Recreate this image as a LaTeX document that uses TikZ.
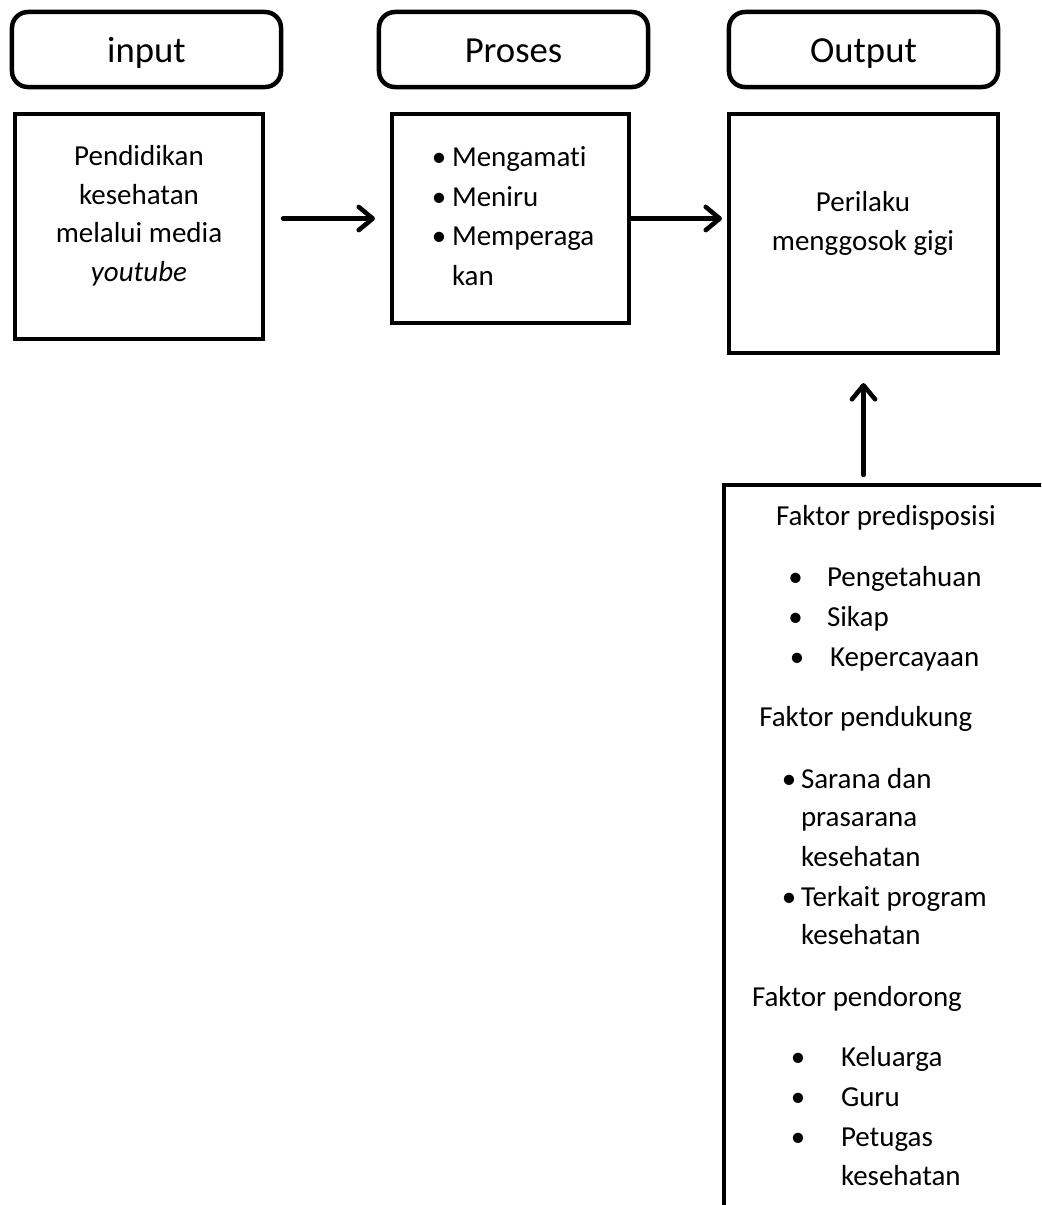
\documentclass[tikz,border=0pt]{standalone}
\usepackage{fontspec}
\setmainfont[Ligatures={NoCommon}]{Carlito}
\usetikzlibrary{arrows.meta}

\newcommand{\bodysize}{\fontsize{20.6}{27.5}\selectfont}
\newcommand{\headsize}{\fontsize{26.1}{32}\selectfont}

\begin{document}
\begin{tikzpicture}[
        x=0.025cm, y=-0.025cm,
        every node/.style={inner sep=0pt, outer sep=0pt},
        head/.style={draw, line width=3.2pt, rounded corners=0.4cm, minimum width=6.725cm, minimum height=1.875cm,
            font=\headsize, text height=0.8cm, text depth=0.175cm},
        box/.style={draw, line width=3.2pt},
        mid/.style={font=\bodysize, anchor=base},
        txt/.style={font=\bodysize, anchor=base west},
        dot/.style={font=\bodysize, anchor=base},
        arr/.style={line width=3.2pt, line cap=round, -{Straight Barb[length=3.5mm, width=5.8mm, line join=round, line cap=round]},
            preaction={draw=black!18, transform canvas={shift={(0.8pt,-1.6pt)}}}},
    ]
        \useasboundingbox (0,0) rectangle (1041,1205);
        \clip (0,0) rectangle (1041,1205);

        % Header boxes
        \node[head] (inpHead) at (146.5,49.5) {input};
        \node[head] (prosHead) at (513.5,49.5) {Proses};
        \node[head] (outHead) at (863.5,49.5) {Output};

        % Content boxes
        \node[box, minimum width=6.2cm, minimum height=5.625cm] (inp) at (139,226.5) {};
        \node[box, minimum width=5.925cm, minimum height=5.225cm] (pros) at (510.5,218.5) {};
        \node[box, minimum width=6.725cm, minimum height=5.975cm] (out) at (863.5,233.5) {};
        \node[box, minimum width=9.4cm, minimum height=19.375cm] (fak) at (912,872.5) {};

        % Input text
        \node[mid] (inp1) at (139,165.7) {Pendidikan};
        \node[mid] (inp2) at (139,204) {kesehatan};
        \node[mid] (inp3) at (139,242) {melalui media};
        \node[mid] (inp4) at (139,281) {\textit{youtube}};

        % Proses text
        \node[dot] (prosDot1) at (439,166.7) {•};
        \node[txt] (pros1) at (452,166.7) {Mengamati};
        \node[dot] (prosDot2) at (439,206) {•};
        \node[txt] (pros2) at (452,206) {Meniru};
        \node[dot] (prosDot3) at (439,245.5) {•};
        \node[txt] (pros3) at (452,245.5) {Memperaga};
        \node[txt] (pros4) at (452,285) {kan};

        % Output text
        \node[mid] (out1) at (863,211.7) {Perilaku};
        \node[mid] (out2) at (863,250) {menggosok gigi};

        % Faktor predisposisi
        \node[txt] (fakA) at (776,525.7) {Faktor predisposisi};
        \node[dot] (dotA1) at (795.7,586.7) {•};
        \node[txt] (fakA1) at (827,586.7) {Pengetahuan};
        \node[dot] (dotA2) at (795.7,626) {•};
        \node[txt] (fakA2) at (827,626) {Sikap};
        \node[dot] (dotA3) at (797,666) {•};
        \node[txt] (fakA3) at (830,666) {Kepercayaan};

        % Faktor pendukung
        \node[txt] (fakB) at (759.3,726.7) {Faktor pendukung};
        \node[dot] (dotB1) at (789,788) {•};
        \node[txt] (fakB1) at (801,788) {Sarana dan};
        \node[txt] (fakB2) at (801,826.7) {prasarana};
        \node[txt] (fakB3) at (801,866) {kesehatan};
        \node[dot] (dotB4) at (789,906) {•};
        \node[txt] (fakB4) at (801,906) {Terkait program};
        \node[txt] (fakB5) at (801,944) {kesehatan};

        % Faktor pendorong
        \node[txt] (fakC) at (752,1006.7) {Faktor pendorong};
        \node[dot] (dotC1) at (798,1066) {•};
        \node[txt] (fakC1) at (841,1066) {Keluarga};
        \node[dot] (dotC2) at (798,1106.7) {•};
        \node[txt] (fakC2) at (841,1106.7) {Guru};
        \node[dot] (dotC3) at (798,1146.7) {•};
        \node[txt] (fakC3) at (841,1146.7) {Petugas};
        \node[txt] (fakC4) at (841,1185) {kesehatan};

        % Arrows
        \draw[arr, shorten <=0.5cm, shorten >=0.425cm] (inp.east |- pros.west) -- (pros.west);
        \draw[arr, shorten <=0.05cm, shorten >=0.175cm] (pros.east) -- (pros.east -| out.west);
        \draw[arr, shorten <=0.25cm, shorten >=0.75cm] (fak.north -| out.south) -- (out.south);
    \end{tikzpicture}
\end{document}
